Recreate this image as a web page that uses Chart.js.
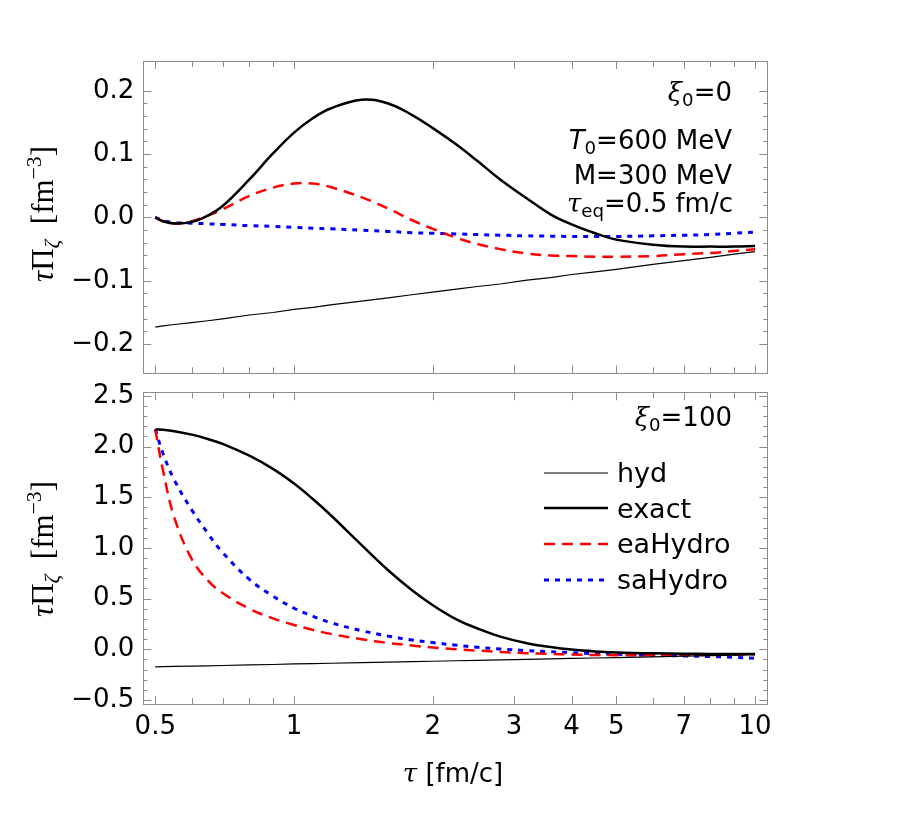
<!DOCTYPE html>
<html>
<head>
<meta charset="utf-8">
<script src="https://cdn.jsdelivr.net/npm/chart.js@4.4.0/dist/chart.umd.min.js"></script>
<style>
  body { margin: 0; background: #fff; }
  #wrap { position: relative; width: 913px; height: 819px; }
  canvas { position: absolute; left: 0; top: 0; }
  .a { position: absolute; font-family: "DejaVu Sans"; font-size: 26px; line-height: 26px; white-space: nowrap; color: #000; }
  .g { font-family: "DejaVu Serif"; font-style: italic; }
  sub { font-size: 70%; vertical-align: -0.3em; line-height: 0; }
  sup { font-size: 70%; vertical-align: 0.55em; line-height: 0; }
  .lg { position: absolute; left: 617px; font-family: "DejaVu Sans"; font-size: 27px; line-height: 27px; white-space: nowrap; }
  .yt { position: absolute; font-family: "Liberation Serif"; font-size: 31px; line-height: 31px; white-space: nowrap;
        transform: translate(-50%, -50%) rotate(-90deg); }
</style>
</head>
<body>
<div id="wrap">
  <canvas id="topChart" width="913" height="819"></canvas>
  <canvas id="botChart" width="913" height="819"></canvas>

  <div class="a" style="right:181px; top:79px;"><span class="g">ξ</span><sub>0</sub>=0</div>
  <div class="a" style="right:181px; top:127px;"><i>T</i><sub>0</sub>=600 MeV</div>
  <div class="a" style="right:181px; top:162px;">M=300 MeV</div>
  <div class="a" style="right:180px; top:190px;"><span class="g">τ</span><sub>eq</sub>=0.5 fm/c</div>

  <div class="a" style="right:181px; top:404px;"><span class="g">ξ</span><sub>0</sub>=100</div>

  <svg style="position:absolute; left:540px; top:460px;" width="75" height="130">
    <line x1="4" y1="13" x2="68" y2="13" stroke="#000" stroke-width="1"/>
    <line x1="4" y1="48" x2="68" y2="48" stroke="#000" stroke-width="2.5"/>
    <line x1="4" y1="84" x2="68" y2="84" stroke="#f00" stroke-width="2.5" stroke-dasharray="11 7"/>
    <line x1="4" y1="120" x2="68" y2="120" stroke="#00f" stroke-width="3" stroke-dasharray="5 6"/>
  </svg>
  <div class="lg" style="top:459px;">hyd</div>
  <div class="lg" style="top:495px;">exact</div>
  <div class="lg" style="top:530px;">eaHydro</div>
  <div class="lg" style="top:566px;">saHydro</div>

  <div class="yt" style="left:42px; top:214px;"><i>τ</i>Π<sub><i>ζ</i></sub>&nbsp; [fm<sup>−3</sup>]</div>
  <div class="yt" style="left:42px; top:549px;"><i>τ</i>Π<sub><i>ζ</i></sub>&nbsp; [fm<sup>−3</sup>]</div>
  <div class="a" style="left:453px; top:760px; transform:translateX(-50%);"><span class="g">τ</span> [fm/c]</div>
</div>

<script>
// proper time (fm/c), shared by every curve
const tau = [0.5, 0.52, 0.55, 0.6, 0.65, 0.7, 0.8, 0.9, 1.0, 1.1, 1.2, 1.4, 1.6, 1.8,
             2.0, 2.25, 2.5, 2.8, 3.2, 3.6, 4.0, 4.5, 5, 6, 7, 8, 9, 10];

// Navier-Stokes (hyd), same in both panels
const hyd = [-0.173, -0.171, -0.169, -0.166, -0.163, -0.160, -0.154, -0.150, -0.145, -0.142,
             -0.138, -0.132, -0.127, -0.122, -0.118, -0.113, -0.109, -0.105, -0.099, -0.095,
             -0.090, -0.086, -0.082, -0.074, -0.068, -0.063, -0.058, -0.054];

// xi0 = 0
const exactTop = [0.000, -0.006, -0.0095, -0.007, 0.003, 0.018, 0.060, 0.101, 0.134, 0.157,
                  0.172, 0.186, 0.180, 0.162, 0.141, 0.115, 0.089, 0.060, 0.030, 0.005,
                  -0.011, -0.025, -0.035, -0.043, -0.046, -0.046, -0.046, -0.045];
const eaTop = [0.000, -0.006, -0.0095, -0.006, 0.003, 0.013, 0.034, 0.047, 0.0535, 0.0535,
               0.048, 0.032, 0.014, -0.004, -0.018, -0.032, -0.042, -0.050, -0.057, -0.060,
               -0.061, -0.062, -0.062, -0.061, -0.058, -0.056, -0.053, -0.050];
const saTop = [0.000, -0.005, -0.008, -0.009, -0.010, -0.011, -0.013, -0.014, -0.0155, -0.017,
               -0.018, -0.020, -0.022, -0.024, -0.025, -0.026, -0.027, -0.028, -0.029, -0.0295,
               -0.030, -0.030, -0.030, -0.029, -0.028, -0.027, -0.025, -0.023];

// xi0 = 100
const exactBot = [2.17, 2.166, 2.152, 2.118, 2.075, 2.027, 1.91, 1.78, 1.635, 1.48,
                  1.325, 1.03, 0.78, 0.585, 0.435, 0.295, 0.205, 0.125, 0.06, 0.022,
                  -0.003, -0.021, -0.031, -0.040, -0.044, -0.046, -0.046, -0.046];
const eaBot = [2.17, 1.76, 1.30, 0.89, 0.68, 0.555, 0.40, 0.305, 0.24, 0.19,
               0.152, 0.100, 0.063, 0.037, 0.018, 0.0, -0.013, -0.026, -0.038, -0.046,
               -0.052, -0.056, -0.058, -0.059, -0.058, -0.056, -0.053, -0.049];
const saBot = [2.17, 1.93, 1.67, 1.375, 1.145, 0.955, 0.69, 0.525, 0.405, 0.325,
               0.263, 0.184, 0.13, 0.092, 0.066, 0.04, 0.02, 0.003, -0.013, -0.023,
               -0.033, -0.043, -0.049, -0.059, -0.066, -0.072, -0.079, -0.089];

const xTicks = [0.5, 1, 2, 3, 4, 5, 7, 10];
const xMinorTicks = [0.6, 0.7, 0.8, 0.9, 6, 8, 9];
const yTicksTop = [-0.2, -0.1, 0.0, 0.1, 0.2];
const yTicksBot = [-0.5, 0.0, 0.5, 1.0, 1.5, 2.0, 2.5];

const TICK_FONT = { family: "DejaVu Sans", size: 26 };

// Mathematica-style frame: grey box with inward ticks on all four sides
const framePlugin = {
  id: "frame",
  afterDatasetsDraw(chart, args, opts) {
    const { ctx, chartArea: a, scales: { x, y } } = chart;
    ctx.save();
    ctx.strokeStyle = "#8c8c8c";
    ctx.lineWidth = 1;
    ctx.beginPath();
    const xt = (v, len) => {
      const p = Math.round(x.getPixelForValue(v)) + 0.5;
      ctx.moveTo(p, a.bottom); ctx.lineTo(p, a.bottom - len);
      ctx.moveTo(p, a.top); ctx.lineTo(p, a.top + len);
    };
    const yt = (v, len) => {
      const p = Math.round(y.getPixelForValue(v)) + 0.5;
      ctx.moveTo(a.left, p); ctx.lineTo(a.left + len, p);
      ctx.moveTo(a.right, p); ctx.lineTo(a.right - len, p);
    };
    xTicks.forEach(v => xt(v, 8));
    xMinorTicks.forEach(v => xt(v, 6));
    opts.major.forEach(v => yt(v, 8));
    for (let v = opts.major[0]; v <= opts.major[opts.major.length - 1] + 1e-9; v += opts.minor) {
      yt(v, 4);
    }
    ctx.stroke();
    ctx.strokeRect(Math.round(a.left) + 0.5, Math.round(a.top) + 0.5,
                   Math.round(a.right - a.left), Math.round(a.bottom - a.top));
    ctx.restore();
  }
};

function series(label, values, color, width, dash, tension) {
  return {
    label,
    data: tau.map((t, i) => ({ x: t, y: values[i] })),
    borderColor: color,
    borderWidth: width,
    borderDash: dash,
    pointRadius: 0,
    fill: false,
    tension: tension,
    borderCapStyle: "butt"
  };
}

function makeChart(id, cfg) {
  return new Chart(document.getElementById(id), {
    type: "line",
    data: {
      datasets: [
        series("hyd", hyd, "#000", 1.2, [], 0),
        series("exact", cfg.exact, "#000", 2.5, [], 0.4),
        series("eaHydro", cfg.ea, "#ff0000", 2.5, [11, 7], 0.4),
        series("saHydro", cfg.sa, "#0000ff", 3, [5, 6], 0.4)
      ]
    },
    options: {
      responsive: false,
      animation: false,
      devicePixelRatio: 1,
      layout: { padding: { left: 0, top: cfg.top, right: 145.7, bottom: 0 } },
      plugins: {
        legend: { display: false },
        tooltip: { enabled: false },
        frame: { major: cfg.yTicks, minor: cfg.yMinor }
      },
      scales: {
        x: {
          type: "logarithmic",
          min: 0.471,
          max: 10.63,
          grid: { display: false, drawTicks: false },
          border: { display: false },
          afterBuildTicks: s => { s.ticks = xTicks.map(v => ({ value: v })); },
          afterFit: s => { s.height = cfg.xHeight; },
          ticks: {
            display: cfg.showX,
            autoSkip: false,
            maxRotation: 0,
            padding: 8,
            color: "#000",
            font: TICK_FONT,
            callback: v => String(v)
          }
        },
        y: {
          min: cfg.yMin,
          max: cfg.yMax,
          grid: { display: false, drawTicks: false },
          border: { display: false },
          afterBuildTicks: s => { s.ticks = cfg.yTicks.map(v => ({ value: v })); },
          afterFit: s => { s.width = 143.3; },
          ticks: {
            padding: 9,
            color: "#000",
            font: TICK_FONT,
            callback: v => v.toFixed(1).replace("-", "\u2212")
          }
        }
      }
    },
    plugins: [framePlugin]
  });
}

makeChart("topChart", {
  exact: exactTop, ea: eaTop, sa: saTop,
  top: 61, xHeight: 819 - 373.3, showX: false,
  yMin: -0.246, yMax: 0.247, yTicks: yTicksTop, yMinor: 0.02
});

makeChart("botChart", {
  exact: exactBot, ea: eaBot, sa: saBot,
  top: 392.3, xHeight: 819 - 704, showX: true,
  yMin: -0.54, yMax: 2.536, yTicks: yTicksBot, yMinor: 0.1
});
</script>
</body>
</html>
